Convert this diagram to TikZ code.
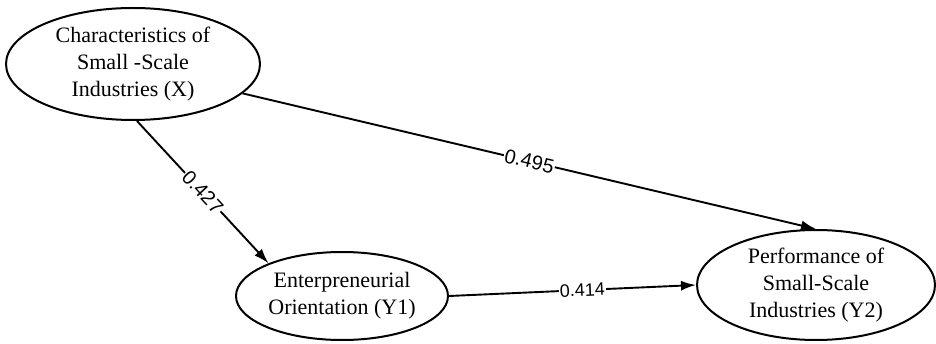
\documentclass[tikz,border=0pt]{standalone}
\usepackage{fontspec}
\setmainfont{Liberation Serif}
\newfontfamily\lblfont{Liberation Sans}
\usetikzlibrary{shapes,arrows.meta,positioning}

\begin{document}
\begin{tikzpicture}[
    x=1pt, y=1pt,
    >={Latex[length=15pt,width=10pt]},
    construct/.style = {draw, ellipse, line width=2pt, inner sep=0pt,
                        align=center, font=\fontsize{22}{27}\selectfont},
    trans/.style     = {line width=1.9pt, ->},
    lbl/.style       = {sloped, fill=white, inner sep=1pt,
                        font=\lblfont\fontsize{20}{20}\selectfont}
  ]
  \useasboundingbox (0,0) rectangle (936,343);

  %–––– constructs ––––
  \node[construct, minimum width=254, minimum height=112] (X)  at (133,279)
       {Characteristics of\\Small -Scale\\Industries (X)};
  \node[construct, minimum width=212, minimum height=88]  (Y1) at (342,47)
       {Enterpreneurial\\Orientation (Y1)};
  \node[construct, minimum width=238, minimum height=110] (Y2) at (816,58)
       {Performance of\\Small-Scale\\Industries (Y2)};

  %–––– paths ––––
  \draw[trans] (X.-86) -- (Y1.156) node[lbl, midway] {0.427};
  \draw[trans] (X.-15) -- (Y2.north) node[lbl, midway] {0.495};
  \draw[trans] (Y1.east) -- (Y2.west)
      node[lbl, pos=0.54, font=\lblfont\fontsize{18}{18}\selectfont] {0.414};

\end{tikzpicture}
\end{document}
